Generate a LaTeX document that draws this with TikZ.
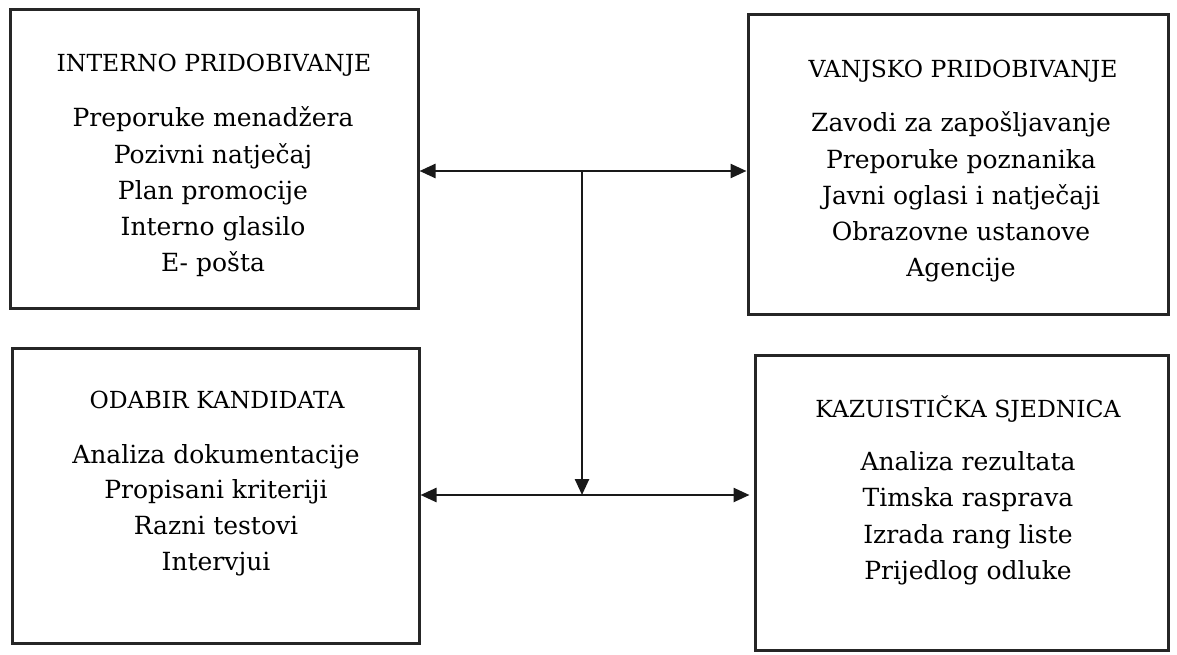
\documentclass[tikz,border=0pt]{standalone}
\usepackage{fontspec}
\setmainfont{DejaVu Serif}
\usetikzlibrary{arrows.meta}
\begin{document}
\begin{tikzpicture}[x=1pt,y=-1pt,
  box/.style={draw=black!85, line width=3pt, rectangle, inner sep=0pt},
  ttl/.style={anchor=base, inner sep=0pt, font=\fontsize{23.5}{28}\selectfont},
  itm/.style={anchor=base, inner sep=0pt, font=\fontsize{25}{30}\selectfont},
  link/.style={line width=2.5pt, draw=black!90, {Triangle[length=16pt,width=14pt]}-{Triangle[length=16pt,width=14pt]}},
  down/.style={line width=2.5pt, draw=black!90, -{Triangle[length=16pt,width=14pt]}}]
\useasboundingbox (0,0) rectangle (1177,655);
% boxes
\node[box, minimum width=408pt, minimum height=298pt] (tl) at (214,159) {};
\node[box, minimum width=420pt, minimum height=299pt] (tr) at (958,164.5) {};
\node[box, minimum width=407pt, minimum height=295pt] (bl) at (215.5,495.5) {};
\node[box, minimum width=413pt, minimum height=295pt] (br) at (961.5,502.5) {};
% titles
\node[ttl] (tlt) at (214,72) {INTERNO PRIDOBIVANJE};
\node[ttl] (trt) at (963,78) {VANJSKO PRIDOBIVANJE};
\node[ttl] (blt) at (217,408) {ODABIR KANDIDATA};
\node[ttl] (brt) at (968,417) {KAZUISTIČKA SJEDNICA};
% items
\foreach \t [count=\i] in {Preporuke menadžera, Pozivni natječaj, Plan promocije, Interno glasilo, E- pošta}
  \node[itm] (tl\i) at (213,127+36.2*\i-36.2) {\t};
\foreach \t [count=\i] in {Zavodi za zapošljavanje, Preporuke poznanika, Javni oglasi i natječaji, Obrazovne ustanove, Agencije}
  \node[itm] (tr\i) at (961,132+36.2*\i-36.2) {\t};
\foreach \t [count=\i] in {Analiza dokumentacije, Propisani kriteriji, Razni testovi, Intervjui}
  \node[itm] (bl\i) at (216,463+35.7*\i-35.7) {\t};
\foreach \t [count=\i] in {Analiza rezultata, Timska rasprava, Izrada rang liste, Prijedlog odluke}
  \node[itm] (br\i) at (968,470+36.5*\i-36.5) {\t};
% connectors
\coordinate (j1) at (582,171);
\coordinate (j2) at (582,495);
\draw[link] (j1 -| tl.east) -- (j1 -| tr.west);
\draw[down] (j1) -- (j2);
\draw[link, shorten >=4pt] (j2 -| bl.east) -- (j2 -| br.west);
\end{tikzpicture}
\end{document}
